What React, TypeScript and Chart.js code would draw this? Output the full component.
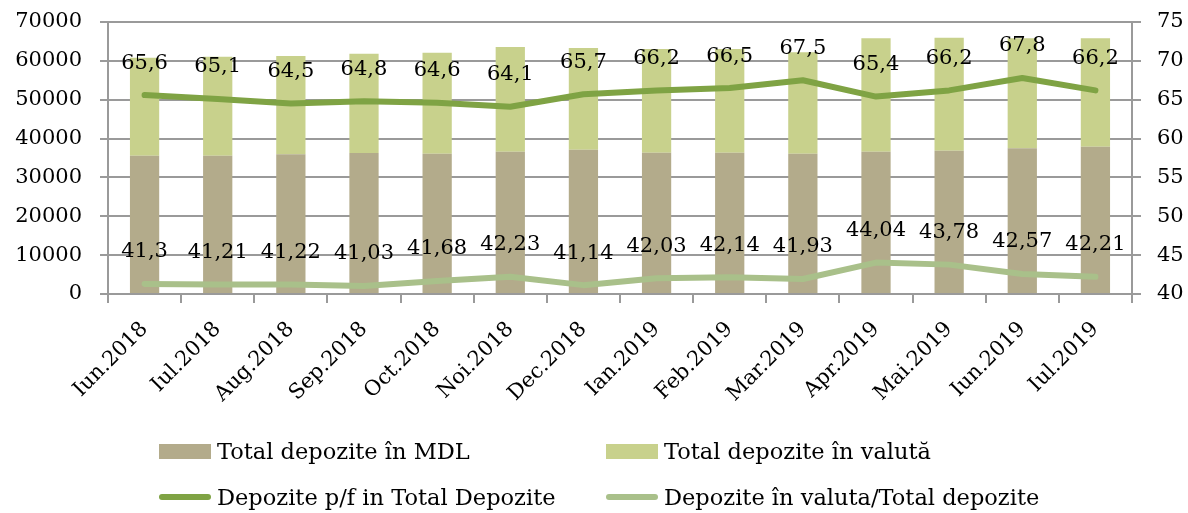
import React, { useEffect, useRef } from "react";
import { Chart, registerables } from "chart.js";

Chart.register(...registerables);

const months = [
  "Iun.2018", "Iul.2018", "Aug.2018", "Sep.2018", "Oct.2018", "Noi.2018", "Dec.2018",
  "Ian.2019", "Feb.2019", "Mar.2019", "Apr.2019", "Mai.2019", "Iun.2019", "Iul.2019",
];
const depoziteMDL = [35590, 35590, 35940, 36280, 36110, 36630, 37140, 36370, 36370, 36110, 36630, 36890, 37480, 37910];
const depoziteValuta = [25220, 25480, 25310, 25560, 25990, 26930, 26160, 26680, 26680, 26080, 29160, 29080, 28310, 27880];
const ponderePF = [65.6, 65.1, 64.5, 64.8, 64.6, 64.1, 65.7, 66.2, 66.5, 67.5, 65.4, 66.2, 67.8, 66.2];
const pondereValuta = [41.3, 41.21, 41.22, 41.03, 41.68, 42.23, 41.14, 42.03, 42.14, 41.93, 44.04, 43.78, 42.57, 42.21];

const seriesNames = [
  "Total depozite în MDL",
  "Total depozite în valută",
  "Depozite p/f in Total Depozite",
  "Depozite în valuta/Total depozite",
];

const FONT = "'DejaVu Serif', serif";
const C_MDL = "#b3ab8b";
const C_VAL = "#c8d18c";
const C_PF = "#7fa344";
const C_VR = "#a9c08a";
const GRID = "#9a9a9a";

const lineLabels = {
  id: "lineLabels",
  afterDatasetsDraw(chart: any) {
    const ctx = chart.ctx;
    ctx.save();
    ctx.font = `21px ${FONT}`;
    ctx.fillStyle = "#000";
    ctx.textAlign = "center";
    ctx.textBaseline = "middle";
    chart.data.datasets.forEach((ds: any, i: number) => {
      if (ds.type !== "line") return;
      const meta = chart.getDatasetMeta(i);
      meta.data.forEach((pt: any, j: number) => {
        ctx.fillText(String(ds.data[j]).replace(".", ","), pt.x, pt.y - 32);
      });
    });
    ctx.restore();
  },
};

export default function App() {
  const ref = useRef<HTMLCanvasElement | null>(null);

  useEffect(() => {
    document.body.style.margin = "0";
    const chart = new Chart(ref.current as HTMLCanvasElement, {
      type: "bar",
      data: {
        labels: months,
        datasets: [
          {
            type: "line",
            label: seriesNames[2],
            data: ponderePF,
            yAxisID: "y1",
            borderColor: C_PF,
            borderWidth: 6,
            pointRadius: 0,
            borderCapStyle: "round",
            borderJoinStyle: "round",
            order: 1,
          } as any,
          {
            type: "line",
            label: seriesNames[3],
            data: pondereValuta,
            yAxisID: "y1",
            borderColor: C_VR,
            borderWidth: 6,
            pointRadius: 0,
            borderCapStyle: "round",
            borderJoinStyle: "round",
            order: 1,
          } as any,
          {
            type: "bar",
            label: seriesNames[0],
            data: depoziteMDL,
            backgroundColor: C_MDL,
            stack: "s",
            yAxisID: "y",
            barPercentage: 0.4,
            categoryPercentage: 1,
            order: 2,
          },
          {
            type: "bar",
            label: seriesNames[1],
            data: depoziteValuta,
            backgroundColor: C_VAL,
            stack: "s",
            yAxisID: "y",
            barPercentage: 0.4,
            categoryPercentage: 1,
            order: 2,
          },
        ],
      },
      options: {
        animation: false,
        responsive: true,
        maintainAspectRatio: false,
        layout: { padding: { top: 22, left: 0, right: 0, bottom: 0 } },
        plugins: { legend: { display: false }, tooltip: { enabled: false } },
        scales: {
          x: {
            stacked: true,
            offset: true,
            grid: { offset: true, drawOnChartArea: false, color: GRID, lineWidth: 2, tickLength: 9 },
            border: { color: GRID, width: 2 },
            ticks: {
              font: { family: FONT, size: 21 },
              color: "#000",
              minRotation: 45,
              maxRotation: 45,
              padding: 14,
            },
            afterFit: (s: any) => { s.height = 219; s.paddingLeft = 0; s.paddingRight = 0; },
          },
          y: {
            position: "left",
            stacked: true,
            min: 0,
            max: 70000,
            ticks: {
              stepSize: 10000,
              font: { family: FONT, size: 21 },
              color: "#000",
              padding: 18,
              callback: (v: any) => String(v),
            },
            grid: { color: GRID, lineWidth: 2, tickLength: 8 },
            border: { color: GRID, width: 2 },
            afterFit: (s: any) => { s.width = 108; s.paddingTop = 0; s.paddingBottom = 0; },
          },
          y1: {
            position: "right",
            min: 40,
            max: 75,
            ticks: {
              stepSize: 5,
              font: { family: FONT, size: 21 },
              color: "#000",
              padding: 16,
              callback: (v: any) => String(v),
            },
            grid: { drawOnChartArea: false, color: GRID, lineWidth: 2, tickLength: 9 },
            border: { color: GRID, width: 2 },
            afterFit: (s: any) => { s.width = 56; s.paddingTop = 0; s.paddingBottom = 0; },
          },
        },
      },
      plugins: [lineLabels],
    });
    return () => chart.destroy();
  }, []);

  const legendItem = (i: number, left: number, top: number, kind: "box" | "line", color: string) => (
    <div key={i} style={{ position: "absolute", left, top, height: 30, display: "flex", alignItems: "center" }}>
      {kind === "box" ? (
        <div style={{ width: 52, height: 15, background: color }} />
      ) : (
        <div style={{ width: 52, height: 6, borderRadius: 3, background: color }} />
      )}
      <span style={{ marginLeft: 6, fontFamily: FONT, fontSize: 22.5, color: "#000", whiteSpace: "nowrap" }}>
        {seriesNames[i]}
      </span>
    </div>
  );

  return (
    <div style={{ position: "absolute", left: 0, top: 0, width: 1188, height: 513, background: "#fff" }}>
      <canvas ref={ref} />
      {legendItem(0, 159, 436, "box", C_MDL)}
      {legendItem(1, 606, 436, "box", C_VAL)}
      {legendItem(2, 159, 482, "line", C_PF)}
      {legendItem(3, 606, 482, "line", C_VR)}
    </div>
  );
}
